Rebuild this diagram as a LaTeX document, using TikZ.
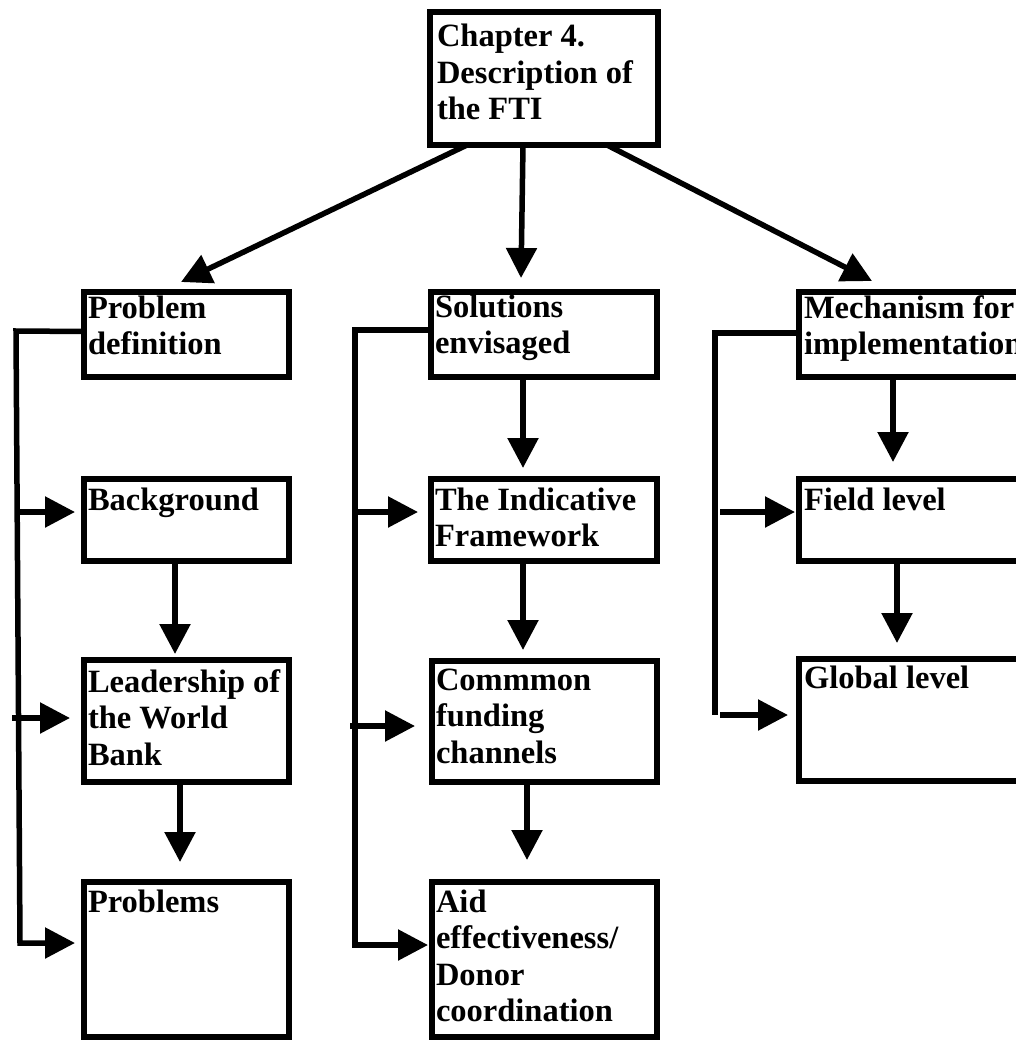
\documentclass[tikz,border=0pt]{standalone}
\usepackage{fontspec}
\setmainfont{Liberation Serif}
\usetikzlibrary{arrows.meta}

\begin{document}
\begin{tikzpicture}[x=1pt,y=-1pt,
  box/.style={draw, line width=5.5pt, inner sep=0pt, outer sep=0pt, anchor=north west},
  lbl/.style={anchor=base west, inner sep=0pt, outer sep=0pt,
              font=\fontsize{32.5}{36.5}\selectfont\bfseries},
  wire/.style={line width=5.5pt, line join=miter},
  arr/.style={wire, -{Triangle[length=30pt,width=30pt]}}]

\useasboundingbox (0,0) rectangle (1016,1041);
\clip (0,0) rectangle (1016,1041);

% ---------- boxes ----------
\node[box, minimum width=228pt, minimum height=133pt] (top)   at (430,12)  {};

\node[box, minimum width=205pt, minimum height=85pt]  (pd)    at (84,292)  {};
\node[box, minimum width=205pt, minimum height=82pt]  (bg)    at (84,479)  {};
\node[box, minimum width=205pt, minimum height=122pt] (lead)  at (84,660)  {};
\node[box, minimum width=205pt, minimum height=155pt] (prob)  at (84,882)  {};

\node[box, minimum width=226pt, minimum height=85pt]  (sol)   at (431,292) {};
\node[box, minimum width=226pt, minimum height=82pt]  (ind)   at (431,479) {};
\node[box, minimum width=225pt, minimum height=121pt] (com)   at (432,661) {};
\node[box, minimum width=225pt, minimum height=155pt] (aid)   at (432,882) {};

\node[box, minimum width=241pt, minimum height=85pt]  (mech)  at (799,292) {};
\node[box, minimum width=241pt, minimum height=82pt]  (field) at (799,479) {};
\node[box, minimum width=241pt, minimum height=122pt] (glob)  at (799,659) {};

% ---------- texts ----------
\node[lbl] (ttop) at (437,47) {\vtop{\hbox{Chapter 4.}\hbox{Description of}\hbox{the FTI}}};

\node[lbl] (tpd)   at (88,318)  {\vtop{\hbox{Problem}\hbox{definition}}};
\node[lbl] (tbg)   at (88,510)  {Background};
\node[lbl] (tlead) at (88,692)  {\vtop{\hbox{Leadership of}\hbox{the World}\hbox{Bank}}};
\node[lbl] (tprob) at (88,912)  {Problems};

\node[lbl] (tsol)  at (435,317) {\vtop{\hbox{Solutions}\hbox{envisaged}}};
\node[lbl] (tind)  at (435,510) {\vtop{\hbox{The Indicative}\hbox{Framework}}};
\node[lbl] (tcom)  at (436,690) {\vtop{\hbox{Commmon}\hbox{funding}\hbox{channels}}};
\node[lbl] (taid)  at (436,912) {\vtop{\hbox{Aid}\hbox{effectiveness/}\hbox{Donor}\hbox{coordination}}};

\node[lbl] (tmech)  at (804,318) {\vtop{\hbox{Mechanism for}\hbox{implementation}}};
\node[lbl] (tfield) at (804,510) {Field level};
\node[lbl] (tglob)  at (804,688) {Global level};

% ---------- top level branches ----------
\draw[arr] ([xshift=37pt]top.south west)  -- ([xshift=97pt,yshift=10pt]pd.north west);
\draw[arr] ([xshift=93pt]top.south west)  -- ([xshift=90pt,yshift=14pt]sol.north west);
\draw[arr] ([xshift=177pt]top.south west) -- ([xshift=73pt,yshift=11pt]mech.north west);

% ---------- vertical chains ----------
\draw[arr] ([xshift=91pt]bg.south west)   -- ([xshift=91pt,yshift=6pt]lead.north west);
\draw[arr] ([xshift=96pt]lead.south west) -- ([xshift=96pt,yshift=20pt]prob.north west);

\draw[arr] ([xshift=92pt]sol.south west)  -- ([xshift=92pt,yshift=11pt]ind.north west);
\draw[arr] ([xshift=92pt]ind.south west)  -- ([xshift=91pt,yshift=11pt]com.north west);
\draw[arr] ([xshift=95pt]com.south west)  -- ([xshift=95pt,yshift=22pt]aid.north west);

\draw[arr] ([xshift=94pt]mech.south west)  -- ([xshift=94pt,yshift=17pt]field.north west);
\draw[arr] ([xshift=98pt]field.south west) -- ([xshift=98pt,yshift=16pt]glob.north west);

% ---------- left bus ----------
\coordinate (lbTop) at (16,331);
\coordinate (lbBot) at (20,943);
\coordinate (lb1)   at (18,512);
\coordinate (lb2)   at (12,718);
\draw[arr, shorten >=9pt] ([yshift=3pt]pd.west) -- (lbTop) -- (lbBot) -- (prob.west |- lbBot);
\draw[arr, shorten >=9pt]  (lb1) -- (bg.west |- lb1);
\draw[arr, shorten >=14pt] (lb2) -- (lead.west |- lb2);

% ---------- middle bus ----------
\coordinate (mbTop) at (355,330);
\coordinate (mbBot) at (355,945);
\coordinate (mb1)   at (352,512);
\coordinate (mb2)   at (350,726);
\draw[arr, shorten >=4pt] ([yshift=4.5pt]sol.west) -- (mbTop) -- (mbBot) -- (aid.west |- mbBot);
\draw[arr, shorten >=13pt] (mb1) -- (ind.west |- mb1);
\draw[arr, shorten >=17pt] (mb2) -- (com.west |- mb2);

% ---------- right bus ----------
\coordinate (rbTop) at (715,333);
\coordinate (rbBot) at (715,715);
\coordinate (rb1)   at (720,512);
\coordinate (rb2)   at (720,715);
\draw[wire] ([yshift=1.5pt]mech.west) -- (rbTop) -- (rbBot);
\draw[arr, shorten >=4pt]  (rb1) -- (field.west |- rb1);
\draw[arr, shorten >=11pt] (rb2) -- (glob.west |- rb2);

\end{tikzpicture}
\end{document}
